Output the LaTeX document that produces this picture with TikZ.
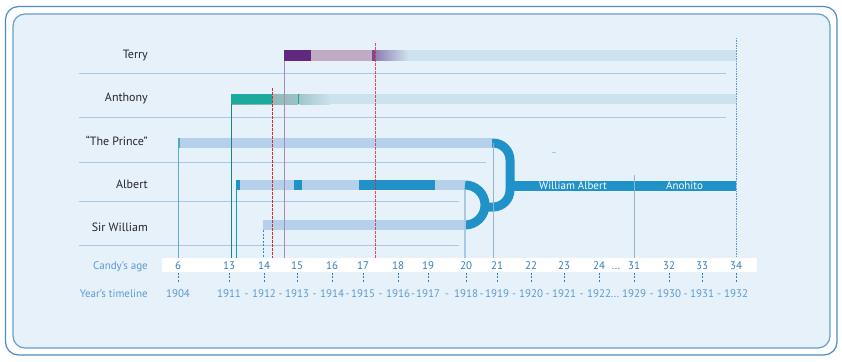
\documentclass[tikz,border=0pt]{standalone}
\usepackage{fontspec}
\setmainfont{PT Sans}
\definecolor{FrameBlue}{HTML}{4A8CC6}
\definecolor{PanelBlue}{HTML}{E7F1FA}
\definecolor{RuleBlue}{HTML}{A8C8E6}
\definecolor{PaleBar}{HTML}{B5D0EA}
\definecolor{DeepBar}{HTML}{2192C8}
\definecolor{FadeBar}{HTML}{CCE2EE}
\definecolor{TerryDark}{HTML}{5F2A7D}
\definecolor{TerryLight}{HTML}{C0AAC4}
\definecolor{AnthonyDark}{HTML}{1BAA9B}
\definecolor{AnthonyGrey}{HTML}{8FBBBB}
\definecolor{AxisText}{HTML}{2F7DBE}
\definecolor{AxisLabel}{HTML}{5A9AD4}
\definecolor{DeathRed}{HTML}{E8232B}

\begin{document}
\begin{tikzpicture}[x=1pt,y=-1pt,font=\fontsize{11}{13}\selectfont]
\tikzset{RowLabel/.style = {anchor=base east, inner sep=0pt,
                            font=\fontsize{12}{14}\selectfont, text=black!85},
         SideLabel/.style = {anchor=base east, inner sep=0pt, text=AxisLabel},
         AgeLabel/.style = {anchor=base, inner sep=0pt, text=AxisText},
         YearLabel/.style = {anchor=base, inner sep=0pt, text=AxisLabel},
         RowRule/.style = {RuleBlue, line width=0.8pt},
         TickStyle/.style = {AxisText, dash pattern=on 2pt off 1.5pt, line width=0.8pt},
         RedLine/.style = {DeathRed, dash pattern=on 3pt off 1pt, line width=0.9pt},
         Link/.style = {DeepBar, line width=9pt}}
\useasboundingbox (0,0) rectangle (842,361);
\draw[FrameBlue, line width=1.2pt, fill=white, rounded corners=13] (5.5,6.5) rectangle (837,355);
\draw[FrameBlue!85, line width=1.2pt, fill=PanelBlue, rounded corners=12] (13,14) rectangle (830,348);
% rows
\draw[RowRule] (79,73) -- (726,73);
\draw[RowRule] (79,117) -- (726,117);
\draw[RowRule] (79,162.5) -- (486,162.5);
\draw[RowRule] (79,201.5) -- (459,201.5);
\draw[RowRule] (79,245.5) -- (459,245.5);
\node[RowLabel] (terry) at (148,58.5) {Terry};
\node[RowLabel] (anthony) at (148,101.7) {Anthony};
\node[RowLabel] (prince) at (148,145) {“The Prince”};
\node[RowLabel] (albert) at (148,188.3) {Albert};
\node[RowLabel] (william) at (148,231.7) {Sir William};
% bars
\fill[TerryDark] (284,50.5) rectangle (311,60.5);
\fill[TerryLight] (311,50.5) rectangle (372,60.5);
\fill[TerryDark!85] (372,50.5) rectangle (375,60.5);
\shade[left color=TerryDark!55!FadeBar, right color=FadeBar] (375,50.5) rectangle (408,60.5);
\fill[FadeBar] (408,50.5) rectangle (736,60.5);
\shade[left color=AnthonyGrey!90!black, right color=AnthonyGrey!80!FadeBar] (231,94) rectangle (298,104);
\fill[AnthonyDark] (231,94) rectangle (272,104);
\fill[AnthonyDark] (298,94) rectangle (299.5,104);
\shade[left color=AnthonyGrey!70!FadeBar, right color=FadeBar] (299.5,94) rectangle (330,104);
\fill[FadeBar] (330,94) rectangle (736,104);
\fill[PaleBar] (178,138) rectangle (492,148);
\fill[DeepBar!80] (178,138) rectangle (180,148);
\fill[PaleBar] (236,180) rectangle (465,190);
\fill[DeepBar] (236,180) rectangle (240,190);
\fill[DeepBar] (294,180) rectangle (302,190);
\fill[DeepBar] (359,180) rectangle (435,190);
\fill[PaleBar] (263,220) rectangle (465,230);
% merge
\draw[Link] (465,185) arc[start angle=-90, end angle=90, radius=20];
\draw[Link, rounded corners=17] (492,143) -- (510,143) -- (510,207) -- (484,207);
\fill[DeepBar] (510,181) rectangle (736,191);
\node[text=white, inner sep=0pt] (wname) at (573,186) {William Albert};
\node[text=white, inner sep=0pt] (aname) at (684.5,186) {Anohito};
% verticals
\draw[DeepBar!75, line width=0.8pt] (178,148) -- (178,257.5);
\draw[AnthonyDark!80!black, line width=0.8pt] (231,104) -- (231,257.5);
\draw[DeepBar, line width=0.8pt] (236.5,190) -- (236.5,257.5);
\draw[TickStyle, DeepBar] (263,230) -- (263,257.5);
\draw[RedLine] (272,88) -- (272,257.5);
\draw[TerryDark!55, line width=0.8pt] (284.5,60.5) -- (284.5,257.5);
\draw[RedLine, opacity=0.8] (375,43) -- (375,257.5);
\draw[RuleBlue, line width=1.2pt] (465,190) -- (465,257.5);
\draw[RuleBlue!90!black, line width=0.8pt] (493,143) -- (493,257.5);
\draw[RuleBlue!90!black, line width=0.8pt] (634,175) -- (634,257.5);
\draw[AxisLabel, dash pattern=on 1.5pt off 1pt, line width=1pt] (736,38) -- (736,257.5);
\draw[RuleBlue, line width=0.8pt] (552,152) -- (556,152);
% axis
\fill[white] (162,257.5) rectangle (757,272);
\node[SideLabel] (agehead) at (148,269) {Candy’s age};
\node[SideLabel] (yearhead) at (148,297.5) {Year’s timeline};
\foreach \x/\age/\yr in {178/6/1904, 229/13/1911, 264/14/1912, 297/15/1913, 332/16/1914,
    363/17/1915, 398/18/1916, 428/19/1917, 466/20/1918, 497/21/1919, 531/22/1920,
    564/23/1921, 599/24/1922, 634/31/1929, 669/32/1930, 702/33/1931, 736/34/1932} {
  \node[AgeLabel] (age\age) at (\x,269) {\age};
  \node[YearLabel] (year\yr) at (\x,297.5) {\yr};
  \draw[TickStyle] (\x,272.5) -- (\x,283);
}
\foreach \x [count=\i] in {246.5, 280.5, 314.5, 347.5, 380.5, 413, 447, 481.5, 514,
    547.5, 581.5, 651.5, 685.5, 719}
  \node[YearLabel] (sep\i) at (\x,297.5) {-};
\node[AgeLabel] (agedots) at (616,269) {...};
\node[YearLabel] (yeardots) at (615,297.5) {...};
\end{tikzpicture}
\end{document}
